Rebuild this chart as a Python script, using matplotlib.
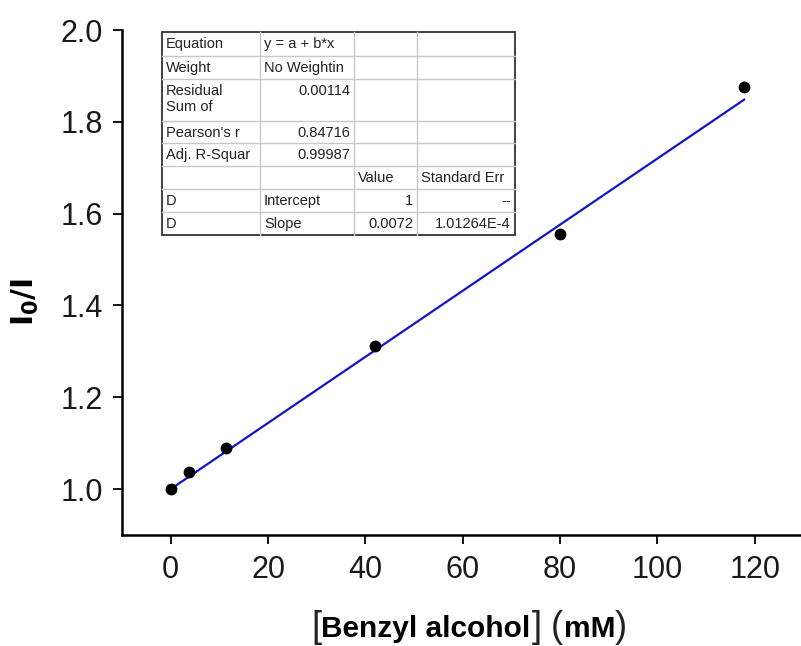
import matplotlib.pyplot as plt
from matplotlib.transforms import Bbox, TransformedBbox
import numpy as np

plt.rcParams['font.family'] = ['Liberation Sans', 'DejaVu Sans']

# measured points
conc = [0, 3.7, 11.4, 42, 80, 117.8]
ratio = [1.0, 1.037, 1.089, 1.311, 1.556, 1.875]

# linear fit y = a + b*x
intercept = 1.0
slope = 0.0072

# fit report table
table_rows = [
    ['Equation', 'y = a + b*x', '', ''],
    ['Weight', 'No Weightin', '', ''],
    ['Residual\nSum of', '0.00114', '', ''],
    ["Pearson's r", '0.84716', '', ''],
    ['Adj. R-Squar', '0.99987', '', ''],
    ['', '', 'Value', 'Standard Err'],
    ['D', 'Intercept', '1', '--'],
    ['D', 'Slope', '0.0072', '1.01264E-4'],
]
right_cells = {(2, 1), (3, 1), (4, 1), (6, 2), (6, 3), (7, 2), (7, 3)}

W, H = 801, 646
fig = plt.figure(figsize=(8.01, 6.46), dpi=100)
ax = fig.add_axes([122 / W, 111 / H, 679 / W, 505 / H])

fx = np.linspace(0, conc[-1], 50)
ax.plot(fx, intercept + slope * fx, color='#1414c8', lw=1.6, zorder=2)
ax.plot(conc, ratio, 'o', color='black', ms=7.5, zorder=3)

ax.set_xlim(-10, 129.5)
ax.set_ylim(0.9, 2.0)
ax.set_xticks([0, 20, 40, 60, 80, 100, 120])
ax.set_yticks([1.0, 1.2, 1.4, 1.6, 1.8, 2.0])
ax.set_yticklabels(['1.0', '1.2', '1.4', '1.6', '1.8', '2.0'])
for s in ['top', 'right']:
    ax.spines[s].set_visible(False)
for s in ['left', 'bottom']:
    ax.spines[s].set_linewidth(1.8)
ax.tick_params(direction='out', length=6.5, width=1.3, labelsize=22,
               labelcolor='#1a1a1a')
ax.tick_params(axis='y', pad=7)
ax.tick_params(axis='x', pad=8)


def px(x):
    return x / W


def py(y):
    return 1 - y / H


# axis titles
fig.text(px(25), py(302), '$\\mathbf{I_0/I}$', rotation=90, ha='center', va='center',
         fontsize=21.5)

base = py(637)
fig.text(px(311), base, '[', fontsize=26, va='baseline', color='#222222')
fig.text(px(321), base, 'Benzyl alcohol', fontsize=21.5, fontweight='bold', va='baseline')
fig.text(px(532), base, ']', fontsize=26, va='baseline', color='#222222')
fig.text(px(551), base, '(', fontsize=26, va='baseline', color='#222222')
fig.text(px(564), base, 'mM', fontsize=21.5, fontweight='bold', va='baseline')
fig.text(px(615), base, ')', fontsize=26, va='baseline', color='#222222')

# fit report table in pixel coords
col_x = [162, 260, 354, 417, 515]
row_y = [32, 56, 79, 121, 143, 166, 189, 212, 235]

for y in row_y[1:-1]:
    fig.add_artist(plt.Line2D([px(col_x[0]), px(col_x[-1])], [py(y), py(y)],
                              color='#c8c8c8', lw=1))
for x in col_x[1:-1]:
    fig.add_artist(plt.Line2D([px(x), px(x)], [py(row_y[0]), py(row_y[-1])],
                              color='#c8c8c8', lw=1))
fig.add_artist(plt.Rectangle((px(col_x[0]), py(row_y[-1])),
                             px(col_x[-1] - col_x[0]), (row_y[-1] - row_y[0]) / H,
                             fill=False, edgecolor='#333333', lw=1.3))

for r, row in enumerate(table_rows):
    for c, txt in enumerate(row):
        if not txt:
            continue
        if (r, c) in right_cells:
            x = col_x[c + 1] - 4
            ha = 'right'
        else:
            x = col_x[c] + 4
            ha = 'left'
        t = fig.text(px(x), py(row_y[r] + 5), txt, ha=ha, va='top', fontsize=10.5,
                     color='#222222', linespacing=1.2)
        clip = Bbox([[px(col_x[c]), py(row_y[r + 1])], [px(col_x[c + 1]), py(row_y[r])]])
        t.set_clip_box(TransformedBbox(clip, fig.transFigure))

fig.savefig('out.png', dpi=100)
